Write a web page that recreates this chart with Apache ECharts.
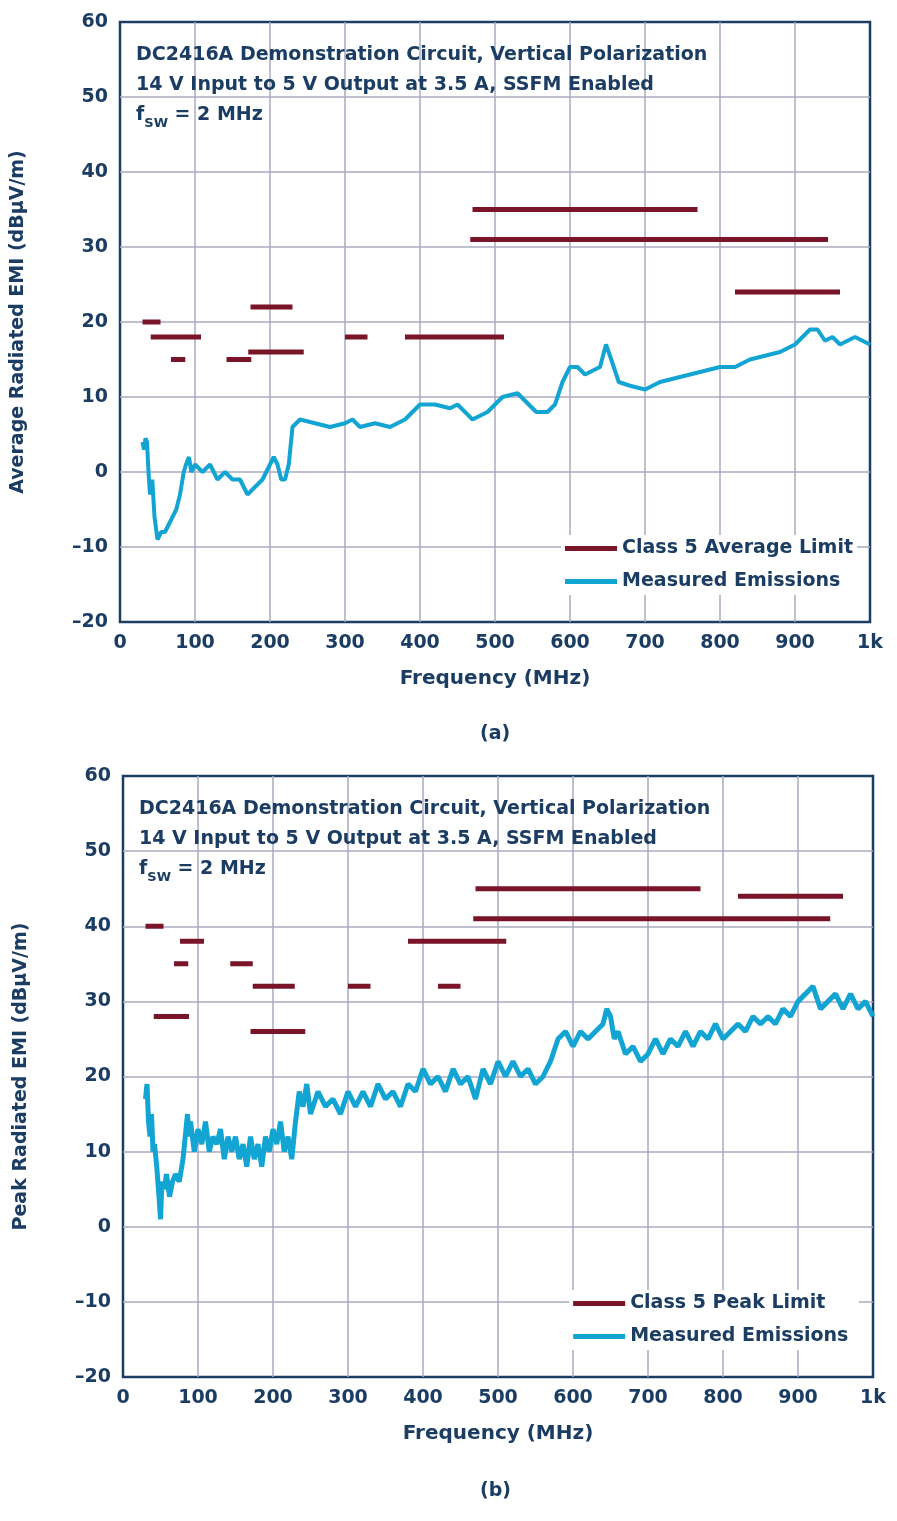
<!DOCTYPE html>
<html><head><meta charset="utf-8">
<script src="https://cdn.jsdelivr.net/npm/echarts@6/dist/echarts.min.js"></script>
<style>html,body{margin:0;background:#fff}#c{width:897px;height:1521px}</style>
</head><body><div id="c"></div>
<script>
const xTicks = ["0","100","200","300","400","500","600","700","800","900","1k"];

// [startMHz, endMHz, dBuV/m]
const avgLimits = [
    [30, 54, 20], [41, 108, 18], [68, 87, 15], [142, 175, 15], [174, 230, 22],
    [171, 245, 16], [300, 330, 18], [380, 512, 18], [470, 770, 35], [467, 944, 31], [820, 960, 24]
];
const peakLimits = [
    [30, 54, 40], [41, 88, 28], [76, 108, 38], [68, 87, 35], [143, 173, 35], [173, 229, 32],
    [170, 243, 26], [300, 330, 32], [380, 511, 38], [420, 450, 32], [470, 770, 45], [467, 943, 41], [820, 960, 44]
];

const avgFreq = [30,32,34,36,38,40,43,46,50,55,60,65,70,75,80,85,88,92,95,100,110,120,130,140,150,160,165,170,180,190,200,205,210,215,220,225,230,240,260,280,300,310,320,340,360,380,390,400,420,440,450,460,470,490,510,530,545,555,570,580,590,600,610,620,640,648,655,665,680,700,720,740,760,780,800,820,840,860,880,900,910,920,930,940,950,960,970,980,990,1000];
const avgEmi = [4,3,4.5,4,0,-3,-1,-6,-9,-8,-8,-7,-6,-5,-3,0,1,2,0,1,0,1,-1,0,-1,-1,-2,-3,-2,-1,1,2,1,-1,-1,1,6,7,6.5,6,6.5,7,6,6.5,6,7,8,9,9,8.5,9,8,7,8,10,10.5,9,8,8,9,12,14,14,13,14,17,15,12,11.5,11,12,12.5,13,13.5,14,14,15,15.5,16,17,18,19,19,17.5,18,17,17.5,18,17.5,17];

const peakFreq = [30,32,34,36,38,40,42,45,48,50,52,55,58,62,66,70,75,80,84,86,88,90,95,100,105,110,115,120,125,130,135,140,145,150,155,160,165,170,175,180,185,190,195,200,205,210,215,220,225,230,235,240,245,250,260,270,280,290,300,310,320,330,340,350,360,370,380,390,400,410,420,430,440,450,460,470,480,490,500,510,520,530,540,550,560,570,580,590,600,610,620,630,640,645,650,655,660,670,680,690,700,710,720,730,740,750,760,770,780,790,800,810,820,830,840,850,860,870,880,890,900,910,920,930,940,950,960,970,980,990,1000];
const peakEmi = [17,19,14,12,15,10,11,8,4,1,6,5,7,4,6,7,6,9,13,15,12,14,10,13,11,14,10,12,11,13,9,12,10,12,9,11,8,12,9,11,8,12,10,13,11,14,10,12,9,14,18,16,19,15,18,16,17,15,18,16,18,16,19,17,18,16,19,18,21,19,20,18,21,19,20,17,21,19,22,20,22,20,21,19,20,22,25,26,24,26,25,26,27,29,28,25,26,23,24,22,23,25,23,25,24,26,24,26,25,27,25,26,27,26,28,27,28,27,29,28,30,31,32,29,30,31,29,31,29,30,28];

const navy = "#1c3d63", limitC = "#7a1428", emiC = "#12a4d2", gridC = "#aaaabf";
const font = "DejaVu Sans";

function zip(xs, ys) { return xs.map((x, i) => [x, ys[i]]); }

function axes(gi) {
    return {
        x: {
            type: "value", gridIndex: gi, min: 0, max: 1000, interval: 100,
            name: "Frequency (MHz)", nameLocation: "middle", nameGap: 47,
            nameTextStyle: { color: navy, fontSize: 20, fontWeight: "bold", fontFamily: font },
            axisLine: { show: false }, axisTick: { show: false },
            axisLabel: { color: navy, fontSize: 19, fontWeight: "bold", fontFamily: font, margin: 12,
                formatter: v => xTicks[Math.round(v / 100)] },
            splitLine: { showMinLine: false, showMaxLine: false, lineStyle: { color: gridC, width: 1.5 } }
        },
        y: {
            type: "value", gridIndex: gi, min: -20, max: 60, interval: 10,
            name: gi === 0 ? "Average Radiated EMI (dBµV/m)" : "Peak Radiated EMI (dBµV/m)",
            nameLocation: "middle", nameGap: 92,
            nameTextStyle: { color: navy, fontSize: 19, fontWeight: "bold", fontFamily: font },
            axisLine: { show: false }, axisTick: { show: false },
            axisLabel: { color: navy, fontSize: 19, fontWeight: "bold", fontFamily: font, margin: 12,
                formatter: v => v < 0 ? "–" + Math.abs(v) : v },
            splitLine: { showMinLine: false, showMaxLine: false, lineStyle: { color: gridC, width: 1.5 } }
        }
    };
}

const a0 = axes(0), a1 = axes(1);
const series = [];
function addLimits(list, gi, name) {
    list.forEach(s => series.push({
        name, type: "line", xAxisIndex: gi, yAxisIndex: gi, symbol: "none", z: 3,
        data: [[s[0], s[2]], [s[1], s[2]]], lineStyle: { color: limitC, width: 5 }, itemStyle: { color: limitC }
    }));
}
addLimits(avgLimits, 0, "Class 5 Average Limit");
addLimits(peakLimits, 1, "Class 5 Peak Limit");
series.push({ name: "Measured Emissions", type: "line", xAxisIndex: 0, yAxisIndex: 0, symbol: "none", z: 2,
    data: zip(avgFreq, avgEmi), lineStyle: { color: emiC, width: 4 }, itemStyle: { color: emiC } });
series.push({ name: "Measured Emissions ", type: "line", xAxisIndex: 1, yAxisIndex: 1, symbol: "none", z: 2,
    data: zip(peakFreq, peakEmi), lineStyle: { color: emiC, width: 5 }, itemStyle: { color: emiC } });

const legendBase = {
    orient: "vertical", itemWidth: 52, itemHeight: 5, itemGap: 14, icon: "rect",
    backgroundColor: "#fff", padding: [4, 4, 4, 4],
    textStyle: { color: navy, fontSize: 19, fontWeight: "bold", fontFamily: font }
};

function titleText(top, left) {
    return {
        type: "text", left, top, z: 10,
        style: {
            text: "{b|DC2416A Demonstration Circuit, Vertical Polarization}\n{b|14 V Input to 5 V Output at 3.5 A, SSFM Enabled}\n{b|f}{s|SW}{b| = 2 MHz}",
            rich: {
                b: { fill: navy, fontSize: 19, fontWeight: "bold", fontFamily: font, lineHeight: 30 },
                s: { fill: navy, fontSize: 13, fontWeight: "bold", fontFamily: font, verticalAlign: "bottom", lineHeight: 30, padding: [10, 0, 0, 0] }
            }
        }
    };
}

const chart = echarts.init(document.getElementById("c"));
chart.setOption({
    animation: false,
    backgroundColor: "#fff",
    grid: [
        { left: 120, width: 750, top: 22, height: 600, show: true, borderColor: navy, borderWidth: 2.5 },
        { left: 123, width: 750, top: 776, height: 601, show: true, borderColor: navy, borderWidth: 2.5 }
    ],
    xAxis: [a0.x, a1.x],
    yAxis: [a0.y, a1.y],
    legend: [
        Object.assign({}, legendBase, { data: ["Class 5 Average Limit", "Measured Emissions"], right: 40, top: 535 }),
        Object.assign({}, legendBase, { data: ["Class 5 Peak Limit", "Measured Emissions "], right: 38, top: 1290 })
    ],
    graphic: [
        titleText(46, 136),
        titleText(800, 139),
        { type: "text", left: 480, top: 725, style: { text: "(a)", fill: navy, fontSize: 19, fontWeight: "bold", fontFamily: font } },
        { type: "text", left: 480, top: 1482, style: { text: "(b)", fill: navy, fontSize: 19, fontWeight: "bold", fontFamily: font } }
    ],
    series
});
</script></body></html>
